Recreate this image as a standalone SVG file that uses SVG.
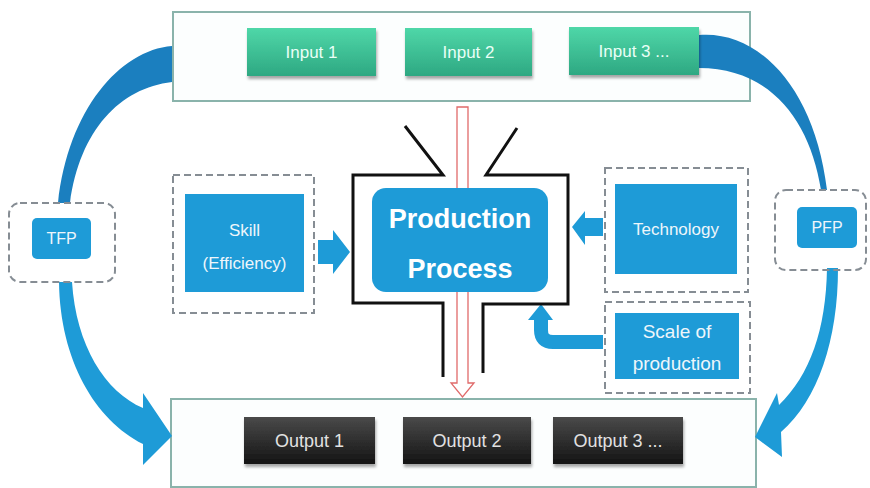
<svg xmlns="http://www.w3.org/2000/svg" width="870" height="488" viewBox="0 0 870 488">
<defs>
<linearGradient id="gGreen" x1="0" y1="0" x2="0" y2="1">
<stop offset="0" stop-color="#4fd7a8"/><stop offset="1" stop-color="#2ea882"/>
</linearGradient>
<linearGradient id="gDark" x1="0" y1="0" x2="0" y2="1">
<stop offset="0" stop-color="#4a4a4a"/><stop offset="1" stop-color="#141414"/>
</linearGradient>
<filter id="sh" x="-10%" y="-10%" width="125%" height="135%">
<feDropShadow dx="1" dy="3" stdDeviation="1.5" flood-color="#000" flood-opacity="0.35"/>
</filter>
</defs>
<style>
.frame{fill:#fcfefe;stroke:#8ab3ab;stroke-width:2}
.inp{fill:url(#gGreen);filter:url(#sh)}
.out{fill:url(#gDark);filter:url(#sh)}
.blue{fill:#1e9bd7}
.dark{fill:#1b7fbf}
.dash{fill:none;stroke:#868d94;stroke-width:2;stroke-dasharray:7 4}
.t{font-family:"Liberation Sans",Arial,sans-serif;text-anchor:middle;fill:#eef6fb}
.ti{font-size:17px;fill:#e9fff6}
.to{font-size:18px;fill:#e2e2e2}
.tb{font-size:17px}
.tp{font-size:27px;font-weight:bold;fill:#ffffff}
.fun{fill:none;stroke:#111;stroke-width:3;stroke-linejoin:miter}
</style>
<rect width="870" height="488" fill="#ffffff"/>

<g id="inputs-frame">
<rect class="frame" x="173" y="12" width="577" height="89"/>
</g>
<g id="outputs-frame">
<rect class="frame" x="171" y="399" width="585" height="88"/>
</g>

<g id="connectors">
<path class="dark" d="M172,46 C120,50 68,110 58,203 L70,203 C80,130 120,88 172,82 Z"/>
<path class="dark" d="M699,35 C760,30 815,90 827,190 L821,190 C810,120 770,68 699,68 Z"/>
<path class="blue" d="M59,282 C60,360 95,420 143,444 L143,465 L172,436 L143,393 L143,408 C105,392 76,345 72,282 Z"/>
<path class="blue" d="M827,268 C826,330 810,375 779,405 L777,393 L755,437 L782,457 L781,432 C818,400 838,340 838,268 Z"/>
<path d="M457,107 L468,107 L468,383 L474,383 L462.5,397 L451,383 L457,383 Z" fill="#ffffff" stroke="#e06a6a" stroke-width="1.3"/>
<path class="blue" d="M318,240 L333,240 L333,230 L350,252 L333,274 L333,264 L318,264 Z"/>
<path class="blue" d="M603,218 L585,218 L585,211 L572,227 L585,245 L585,236 L603,236 Z"/>
<path d="M603,342 L553,342 Q541,342 541,330 L541,318" fill="none" stroke="#1e9bd7" stroke-width="14"/>
<path class="blue" d="M528,320 L541,304 L553,320 Z"/>
</g>

<g id="input1"><rect class="inp" x="247" y="28" width="129" height="48"/><text class="t ti" x="311.5" y="58">Input 1</text></g>
<g id="input2"><rect class="inp" x="405" y="28" width="127" height="48"/><text class="t ti" x="468.5" y="58">Input 2</text></g>
<g id="input3"><rect class="inp" x="569" y="27" width="130" height="48"/><text class="t ti" x="634" y="57">Input 3 ...</text></g>

<g id="output1"><rect class="out" x="244" y="417" width="131" height="47"/><text class="t to" x="309.5" y="447">Output 1</text></g>
<g id="output2"><rect class="out" x="403" y="417" width="128" height="47"/><text class="t to" x="467" y="447">Output 2</text></g>
<g id="output3"><rect class="out" x="553" y="417" width="130" height="47"/><text class="t to" x="618" y="447">Output 3 ...</text></g>

<g id="tfp">
<rect class="dash" x="9" y="203" width="106" height="79" rx="11"/>
<rect class="blue" x="32" y="218" width="59" height="41" rx="5"/>
<text class="t" x="61.5" y="244" font-size="16">TFP</text>
</g>
<g id="pfp">
<rect class="dash" x="775" y="190" width="91" height="80" rx="11"/>
<rect class="blue" x="797" y="207" width="60" height="41" rx="5"/>
<text class="t" x="827" y="233" font-size="16">PFP</text>
</g>

<g id="skill">
<rect class="dash" x="173" y="175" width="141" height="138"/>
<rect class="blue" x="185" y="194" width="119" height="98"/>
<text class="t tb" x="244.5" y="236">Skill</text>
<text class="t tb" x="244.5" y="269">(Efficiency)</text>
</g>

<g id="technology">
<rect class="dash" x="605" y="168" width="143" height="124"/>
<rect class="blue" x="615" y="184" width="122" height="90"/>
<text class="t tb" x="676" y="235">Technology</text>
</g>

<g id="scale">
<rect class="dash" x="605" y="302" width="145" height="91"/>
<rect class="blue" x="615" y="313" width="124" height="66"/>
<text class="t" x="677" y="338" font-size="19">Scale of</text>
<text class="t" x="677" y="370" font-size="19">production</text>
</g>

<g id="funnel">
<path class="fun" d="M405,126 L443,175 L353,175 L353,303 L443,303 L443,377"/>
<path class="fun" d="M517,128 L486,175 L568,175 L568,304 L483,304 L483,373"/>
</g>

<g id="production">
<rect class="blue" x="372" y="188" width="176" height="104" rx="14"/>
<text class="t tp" x="460" y="228">Production</text>
<text class="t tp" x="460" y="278">Process</text>
</g>
</svg>
